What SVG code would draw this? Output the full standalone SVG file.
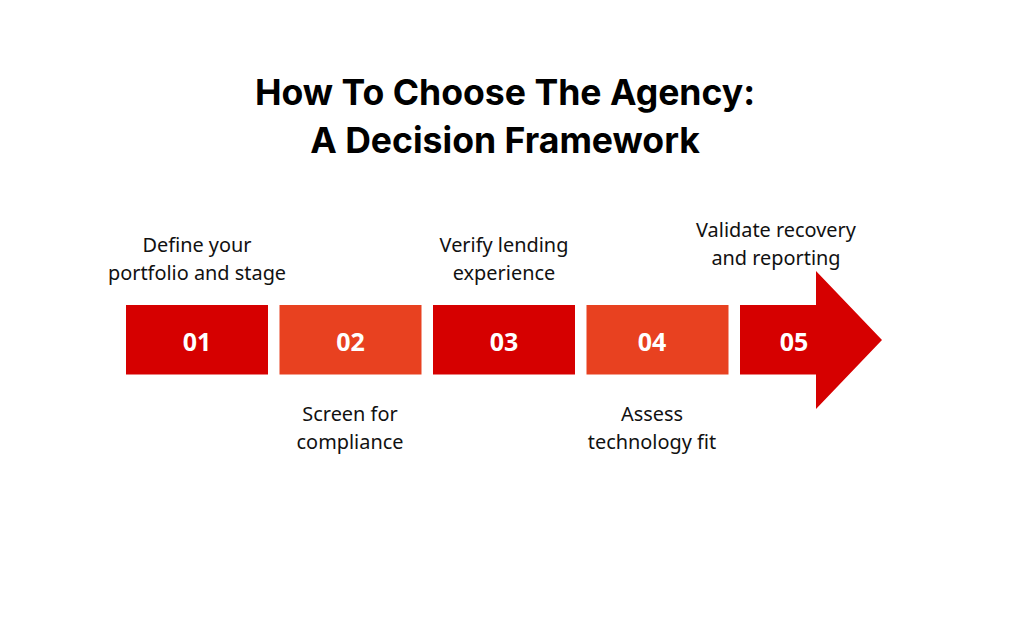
<svg xmlns="http://www.w3.org/2000/svg" width="1012" height="618" viewBox="0 0 1012 618">
<style>
.title{font-family:Inter,"Open Sans","Liberation Sans",sans-serif;font-weight:700;font-size:35.6px;fill:#000;text-anchor:middle}
.lbl{font-family:"Noto Sans","Open Sans","Liberation Sans",sans-serif;font-size:19.9px;fill:#111;text-anchor:middle}
.num{font-family:"Noto Sans","Open Sans","Liberation Sans",sans-serif;font-weight:700;font-size:25px;fill:#fff;text-anchor:middle}
.dark{fill:#D60000}
.light{fill:#E84120}
</style>
<rect width="1012" height="618" fill="#fff"/>
<g id="title">
<text class="title" x="505" y="105">How To Choose The Agency:</text>
<text class="title" x="505" y="153">A Decision Framework</text>
</g>
<g id="step1">
<rect class="dark" x="126" y="305" width="142" height="69.5"/>
<text class="num" x="197" y="351">01</text>
<text class="lbl" x="197" y="252">Define your</text>
<text class="lbl" x="197" y="280">portfolio and stage</text>
</g>
<g id="step2">
<rect class="light" x="279.5" y="305" width="142" height="69.5"/>
<text class="num" x="350.5" y="351">02</text>
<text class="lbl" x="350" y="421">Screen for</text>
<text class="lbl" x="350" y="449">compliance</text>
</g>
<g id="step3">
<rect class="dark" x="433" y="305" width="142" height="69.5"/>
<text class="num" x="504" y="351">03</text>
<text class="lbl" x="504" y="252">Verify lending</text>
<text class="lbl" x="504" y="280">experience</text>
</g>
<g id="step4">
<rect class="light" x="586.5" y="305" width="142" height="69.5"/>
<text class="num" x="652" y="351">04</text>
<text class="lbl" x="652" y="421">Assess</text>
<text class="lbl" x="652" y="449">technology fit</text>
</g>
<g id="step5">
<path class="dark" d="M740 305 H816 V271 L882 340 L816 409 V374.5 H740 Z"/>
<text class="num" x="794" y="351">05</text>
<text class="lbl" x="776" y="237">Validate recovery</text>
<text class="lbl" x="776" y="265">and reporting</text>
</g>
<g id="connectors"></g>
</svg>
